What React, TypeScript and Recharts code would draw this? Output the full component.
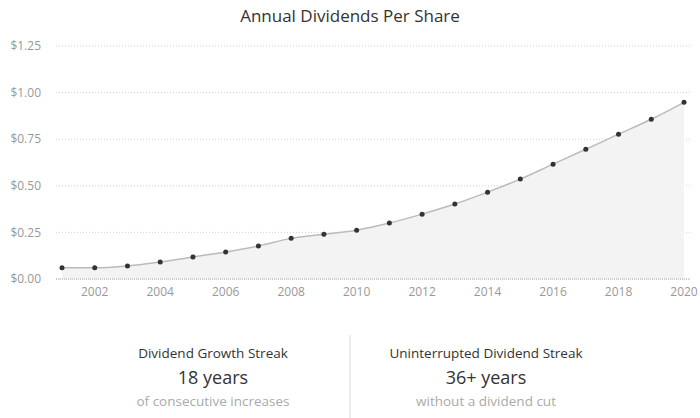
import React from "react";
import {
  AreaChart,
  Area,
  XAxis,
  YAxis,
  CartesianGrid,
} from "recharts";

const years = [
  2001, 2002, 2003, 2004, 2005, 2006, 2007, 2008, 2009, 2010,
  2011, 2012, 2013, 2014, 2015, 2016, 2017, 2018, 2019, 2020,
];
const dividends = [
  0.06, 0.06, 0.07, 0.091, 0.118, 0.145, 0.177, 0.218, 0.24, 0.262,
  0.3, 0.348, 0.402, 0.466, 0.536, 0.616, 0.696, 0.777, 0.857, 0.948,
];
const xTicks = [2002, 2004, 2006, 2008, 2010, 2012, 2014, 2016, 2018, 2020];
const yTicks = [0, 0.25, 0.5, 0.75, 1.0, 1.25];

const streaks = [
  { title: "Dividend Growth Streak", value: "18 years", note: "of consecutive increases", center: 213 },
  { title: "Uninterrupted Dividend Streak", value: "36+ years", note: "without a dividend cut", center: 486 },
];

const data = years.map((y, i) => ({ year: y, value: dividends[i] }));

const font = "'Open Sans', sans-serif";

export default function App() {
  return (
    <div
      style={{
        position: "absolute",
        left: 0,
        top: 0,
        width: 700,
        height: 418,
        background: "#fff",
        fontFamily: font,
        overflow: "hidden",
      }}
    >
      <div
        style={{
          position: "absolute",
          top: 4,
          left: 0,
          width: 700,
          textAlign: "center",
          fontSize: 17,
          color: "#333",
        }}
      >
        Annual Dividends Per Share
      </div>
      <div style={{ position: "absolute", top: 0, left: 0 }}>
        <AreaChart
          width={700}
          height={310}
          data={data}
          margin={{ top: 46, right: 10, bottom: 1, left: 0 }}
        >
          <CartesianGrid
            vertical={false}
            stroke="#d0d0d0"
            strokeDasharray="1 2"
          />
          <XAxis
            dataKey="year"
            type="number"
            domain={[2001, 2020]}
            ticks={xTicks}
            padding={{ left: 6, right: 6 }}
            height={30}
            tickLine={false}
            axisLine={{ stroke: "#aaa", strokeDasharray: "1 1" }}
            tick={{ fill: "#999", fontSize: 12, fontFamily: font }}
          />
          <YAxis
            domain={[0, 1.25]}
            ticks={yTicks}
            width={56}
            axisLine={false}
            tickLine={false}
            tickMargin={9}
            tickFormatter={(v: number) => `$${v.toFixed(2)}`}
            tick={{ fill: "#999", fontSize: 12, fontFamily: font }}
          />
          <Area
            type="monotone"
            dataKey="value"
            stroke="#bbb"
            strokeWidth={1.5}
            fill="#f3f3f3"
            fillOpacity={1}
            dot={{ r: 2.5, fill: "#333", stroke: "none" }}
            activeDot={false}
            isAnimationActive={false}
          />
        </AreaChart>
      </div>
      <div
        style={{
          position: "absolute",
          left: 349,
          top: 335,
          width: 2,
          height: 83,
          background: "#ececec",
        }}
      />
      {streaks.map((s) => (
        <div
          key={s.title}
          style={{
            position: "absolute",
            left: s.center - 130,
            width: 260,
            top: 344,
            textAlign: "center",
          }}
        >
          <div style={{ fontSize: 13.5, color: "#333", lineHeight: "19px" }}>{s.title}</div>
          <div style={{ fontSize: 18, color: "#333", lineHeight: "26px", marginTop: 1 }}>{s.value}</div>
          <div style={{ fontSize: 13.5, color: "#aaa", lineHeight: "22px" }}>{s.note}</div>
        </div>
      ))}
    </div>
  );
}
